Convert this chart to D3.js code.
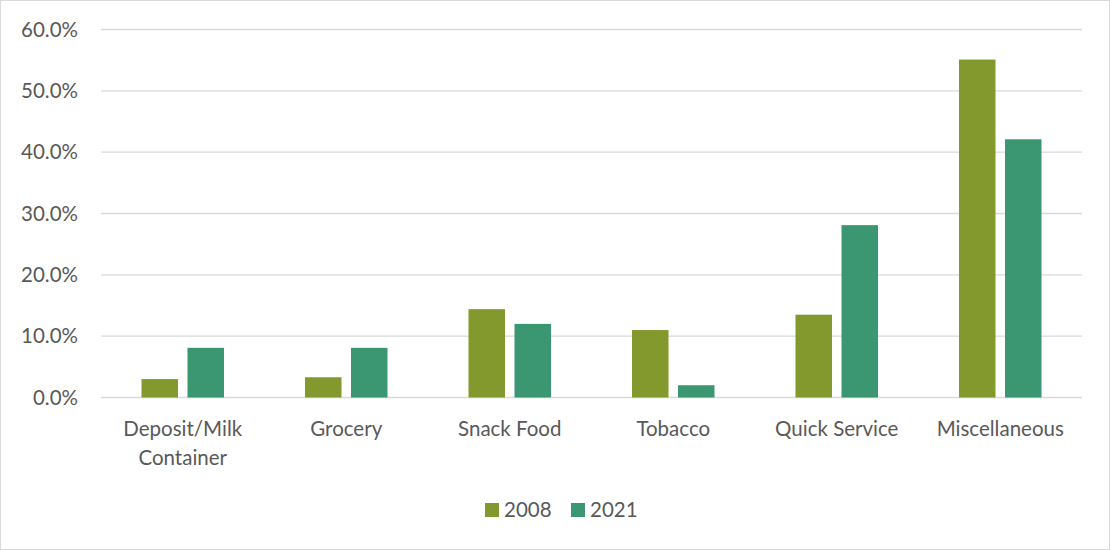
<!DOCTYPE html>
<html><head><meta charset="utf-8">
<script src="https://cdn.jsdelivr.net/npm/d3@7"></script>
<style>body{margin:0;background:#fff}svg{display:block}text{font-family:Lato,"Open Sans",sans-serif;fill:#595959}</style>
</head><body><svg id="c" width="1110" height="550"></svg>
<script>
const categories = ["Deposit/Milk Container","Grocery","Snack Food","Tobacco","Quick Service","Miscellaneous"];
const seriesNames = ["2008","2021"];
const values2008 = [3.0, 3.3, 14.4, 11.0, 13.5, 55.1];
const values2021 = [8.1, 8.1, 12.0, 2.0, 28.1, 42.1];
const yTicks = [0,10,20,30,40,50,60];
const colors = ["#84992d","#3b9672"];

const svg = d3.select("#c");
svg.append("rect").attr("x",0.5).attr("y",0.5).attr("width",1109).attr("height",549).attr("fill","#fff").attr("stroke","#d9d9d9");
const m = {l:101, r:1082, t:29.5, b:397.5};
const x = d3.scaleBand().domain(categories).range([m.l,m.r]).paddingInner(0).paddingOuter(0);
const xs = d3.scaleBand().domain(seriesNames).range([0,x.bandwidth()]).paddingInner(0.2065).paddingOuter(0.88);
const y = d3.scaleLinear().domain([0,60]).range([m.b,m.t]);
const fs = 20.5;

const g = svg.append("g");
g.selectAll("line.grid").data(yTicks).join("line").attr("x1",m.l).attr("x2",m.r)
 .attr("y1",d=>y(d)).attr("y2",d=>y(d)).attr("stroke","#d9d9d9").attr("stroke-width",1.3);
g.selectAll("text.yl").data(yTicks).join("text").attr("x",78).attr("y",d=>y(d)).attr("dy","0.35em")
 .attr("text-anchor","end").attr("font-size",fs).text(d=>d.toFixed(1)+"%");

const series = [values2008, values2021];
series.forEach((vals,si)=>{
  g.selectAll("rect.s"+si).data(vals).join("rect")
   .attr("x",(d,i)=>x(categories[i])+xs(seriesNames[si]))
   .attr("width",xs.bandwidth())
   .attr("y",d=>y(d)).attr("height",d=>y(0)-y(d))
   .attr("fill",colors[si]);
});

categories.forEach(c=>{
  const t = g.append("text").attr("x",x(c)+x.bandwidth()/2).attr("y",436).attr("text-anchor","middle").attr("font-size",fs);
  const parts = c==="Deposit/Milk Container" ? ["Deposit/Milk","Container"] : [c];
  parts.forEach((p,i)=>t.append("tspan").attr("x",x(c)+x.bandwidth()/2).attr("dy",i?29:0).text(p));
});

const lg = g.append("g");
const lx = [485, 571];
seriesNames.forEach((s,i)=>{
  lg.append("rect").attr("x",lx[i]).attr("y",503).attr("width",14).attr("height",14).attr("fill",colors[i]);
  lg.append("text").attr("x",lx[i]+19).attr("y",510).attr("dy","0.35em").attr("font-size",fs).text(s);
});
</script></body></html>
